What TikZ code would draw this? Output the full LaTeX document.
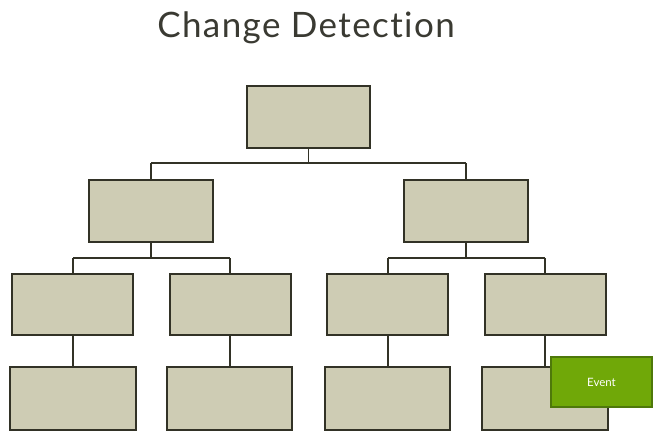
\documentclass[tikz,border=0pt]{standalone}
\usepackage{fontspec}
\setmainfont{Lato}
\newfontfamily\titlefont[LetterSpace=4,Ligatures=NoCommon,Contextuals=NoAlternate]{Lato}
\begin{document}
\begin{tikzpicture}[x=1pt,y=-1pt,
  box/.style={draw=boxline,line width=1.6pt,fill=boxfill},
  link/.style={draw=boxline,line width=1.6pt},
  evt/.style={draw=evline,line width=1.2pt,fill=evfill,text=white,font=\fontsize{11.5}{13}\selectfont}]
\definecolor{boxfill}{RGB}{206,204,180}
\definecolor{boxline}{RGB}{50,50,38}
\definecolor{evfill}{RGB}{112,168,8}
\definecolor{evline}{RGB}{78,120,10}
\definecolor{titlec}{RGB}{58,58,50}
\fill[white] (0,0) rectangle (660,436);
\useasboundingbox (0,0) rectangle (660,436);
\node[text=titlec,font=\titlefont\fontsize{35}{40}\selectfont] (title) at (306,28) {Change Detection};
% level 1
\path[box] (247,86) rectangle (370,148);
\coordinate (rb) at (308.5,148);
% level 2
\path[box] (89,180) rectangle (213,242);
\path[box] (404,180) rectangle (528,242);
\coordinate (at) at (151,180); \coordinate (ab) at (151,242);
\coordinate (bt) at (466,180); \coordinate (bb) at (466,242);
% level 3
\path[box] (12,274) rectangle (133,335);
\path[box] (170,274) rectangle (291,335);
\path[box] (327,274) rectangle (448,335);
\path[box] (485,274) rectangle (606,335);
% level 4
\path[box] (10,367) rectangle (136,430);
\path[box] (167,367) rectangle (292,430);
\path[box] (325,367) rectangle (450,430);
\path[box] (482,367) rectangle (608,430);
% connectors
\draw[link] (rb) -- (308.5,163) (151,163) -- (466,163) (at) -- (151,163) (bt) -- (466,163);
\draw[link] (ab) -- (151,258) (73,258) -- (230,258) (73,258) -- (73,274) (230,258) -- (230,274);
\draw[link] (bb) -- (466,258) (388,258) -- (545,258) (388,258) -- (388,274) (545,258) -- (545,274);
\draw[link] (73,335) -- (73,367) (230,335) -- (230,367) (388,335) -- (388,367) (545,335) -- (545,367);
% event
\node[evt,minimum width=101pt,minimum height=50pt,inner sep=0pt] (event) at (601.5,382) {Event};
\end{tikzpicture}
\end{document}
